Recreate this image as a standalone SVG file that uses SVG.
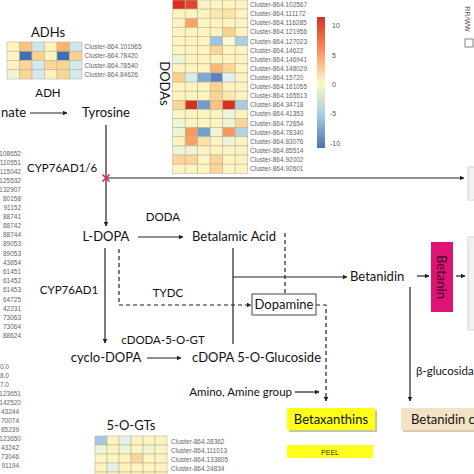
<svg xmlns="http://www.w3.org/2000/svg" width="474" height="474" viewBox="0 0 474 474">
<defs>
<style>
.m{font-family:Lato,"Liberation Sans",sans-serif;font-size:13px;fill:#111}
.e{font-family:Lato,"Liberation Sans",sans-serif;font-size:11.5px;fill:#111}
.cl{font-family:"Liberation Sans",Arial,sans-serif;font-size:6.5px;fill:#666}
.tk{font-family:"Liberation Sans",Arial,sans-serif;font-size:7px;fill:#555}
.ln{stroke:#222;stroke-width:1.2;fill:none}
.ar{stroke:#222;stroke-width:1.2;fill:none;marker-end:url(#ah)}
.d{stroke-dasharray:4 3}
.hm rect{stroke:#bab59c;stroke-width:0.6}
</style>
<marker id="ah" viewBox="0 0 10 10" refX="9" refY="5" markerWidth="5" markerHeight="5" orient="auto" markerUnits="userSpaceOnUse">
<path d="M0,0 L10,5 L0,10 z" fill="#222"/>
</marker>
<linearGradient id="cb" x1="0" y1="0" x2="0" y2="1">
<stop offset="0" stop-color="#d73027"/>
<stop offset="0.25" stop-color="#fc8d59"/>
<stop offset="0.5" stop-color="#fff8c4"/>
<stop offset="0.75" stop-color="#a6cce0"/>
<stop offset="1" stop-color="#4575b4"/>
</linearGradient>
</defs>
<rect width="474" height="474" fill="#fff"/>

<!-- ADHs heatmap -->
<g id="adhs">
<text class="m" x="48" y="37" text-anchor="middle">ADHs</text>
<g class="hm">
<rect x="7" y="42" width="12.5" height="9.25" fill="#fff3bf"/><rect x="19.5" y="42" width="12.5" height="9.25" fill="#fdc47e"/><rect x="32" y="42" width="12.5" height="9.25" fill="#cfe5ee"/><rect x="44.5" y="42" width="12.5" height="9.25" fill="#fff3bf"/><rect x="57" y="42" width="12.5" height="9.25" fill="#fbb468"/><rect x="69.5" y="42" width="12.5" height="9.25" fill="#cfe5ee"/>
<rect x="7" y="51.25" width="12.5" height="9.25" fill="#fff3bf"/><rect x="19.5" y="51.25" width="12.5" height="9.25" fill="#3f6fb3"/><rect x="32" y="51.25" width="12.5" height="9.25" fill="#fdd08e"/><rect x="44.5" y="51.25" width="12.5" height="9.25" fill="#fff3bf"/><rect x="57" y="51.25" width="12.5" height="9.25" fill="#3f6fb3"/><rect x="69.5" y="51.25" width="12.5" height="9.25" fill="#fdd08e"/>
<rect x="7" y="60.5" width="12.5" height="9.25" fill="#fff3bf"/><rect x="19.5" y="60.5" width="12.5" height="9.25" fill="#fdd596"/><rect x="32" y="60.5" width="12.5" height="9.25" fill="#d3e8ef"/><rect x="44.5" y="60.5" width="12.5" height="9.25" fill="#fdd596"/><rect x="57" y="60.5" width="12.5" height="9.25" fill="#fdd596"/><rect x="69.5" y="60.5" width="12.5" height="9.25" fill="#d3e8ef"/>
<rect x="7" y="69.75" width="12.5" height="9.25" fill="#eef5d5"/><rect x="19.5" y="69.75" width="12.5" height="9.25" fill="#fdd596"/><rect x="32" y="69.75" width="12.5" height="9.25" fill="#d3e8ef"/><rect x="44.5" y="69.75" width="12.5" height="9.25" fill="#fff3bf"/><rect x="57" y="69.75" width="12.5" height="9.25" fill="#fdd596"/><rect x="69.5" y="69.75" width="12.5" height="9.25" fill="#d3e8ef"/>
</g>
<text class="cl" x="84.5" y="49.2">Cluster-864.101965</text>
<text class="cl" x="84.5" y="58.4">Cluster-864.78420</text>
<text class="cl" x="84.5" y="67.7">Cluster-864.78540</text>
<text class="cl" x="84.5" y="76.9">Cluster-864.84626</text>
</g>

<!-- DODAs heatmap -->
<g id="dodas">
<text class="m" x="165" y="83.5" text-anchor="middle" dominant-baseline="central" transform="rotate(90 165 83.5)">DODAs</text>
<g class="hm">
<rect x="172.7" y="0" width="12.5" height="9.12" fill="#d7301f"/><rect x="185.2" y="0" width="12.5" height="9.12" fill="#e0452f"/><rect x="197.7" y="0" width="12.5" height="9.12" fill="#fff3bf"/><rect x="210.2" y="0" width="12.5" height="9.12" fill="#fff3bf"/><rect x="222.7" y="0" width="12.5" height="9.12" fill="#fff3bf"/><rect x="235.2" y="0" width="12.5" height="9.12" fill="#fff3bf"/>
<rect x="172.7" y="9.12" width="12.5" height="9.12" fill="#fff3bf"/><rect x="185.2" y="9.12" width="12.5" height="9.12" fill="#fff3bf"/><rect x="197.7" y="9.12" width="12.5" height="9.12" fill="#fff3bf"/><rect x="210.2" y="9.12" width="12.5" height="9.12" fill="#feeab0"/><rect x="222.7" y="9.12" width="12.5" height="9.12" fill="#fee3a6"/><rect x="235.2" y="9.12" width="12.5" height="9.12" fill="#fff3bf"/>
<rect x="172.7" y="18.24" width="12.5" height="9.12" fill="#fff3bf"/><rect x="185.2" y="18.24" width="12.5" height="9.12" fill="#f7a465"/><rect x="197.7" y="18.24" width="12.5" height="9.12" fill="#fff3bf"/><rect x="210.2" y="18.24" width="12.5" height="9.12" fill="#fff3bf"/><rect x="222.7" y="18.24" width="12.5" height="9.12" fill="#fff3bf"/><rect x="235.2" y="18.24" width="12.5" height="9.12" fill="#fff3bf"/>
<rect x="172.7" y="27.36" width="12.5" height="9.12" fill="#fff3bf"/><rect x="185.2" y="27.36" width="12.5" height="9.12" fill="#fff3bf"/><rect x="197.7" y="27.36" width="12.5" height="9.12" fill="#fff3bf"/><rect x="210.2" y="27.36" width="12.5" height="9.12" fill="#fff3bf"/><rect x="222.7" y="27.36" width="12.5" height="9.12" fill="#fdd08e"/><rect x="235.2" y="27.36" width="12.5" height="9.12" fill="#fff3bf"/>
<rect x="172.7" y="36.48" width="12.5" height="9.12" fill="#fff3bf"/><rect x="185.2" y="36.48" width="12.5" height="9.12" fill="#fff3bf"/><rect x="197.7" y="36.48" width="12.5" height="9.12" fill="#fff3bf"/><rect x="210.2" y="36.48" width="12.5" height="9.12" fill="#9cc3e0"/><rect x="222.7" y="36.48" width="12.5" height="9.12" fill="#fbf7d0"/><rect x="235.2" y="36.48" width="12.5" height="9.12" fill="#a9cde3"/>
<rect x="172.7" y="45.6" width="12.5" height="9.12" fill="#fff3bf"/><rect x="185.2" y="45.6" width="12.5" height="9.12" fill="#fff3bf"/><rect x="197.7" y="45.6" width="12.5" height="9.12" fill="#fff3bf"/><rect x="210.2" y="45.6" width="12.5" height="9.12" fill="#fdd596"/><rect x="222.7" y="45.6" width="12.5" height="9.12" fill="#fff3bf"/><rect x="235.2" y="45.6" width="12.5" height="9.12" fill="#fff3bf"/>
<rect x="172.7" y="54.72" width="12.5" height="9.12" fill="#eef5d5"/><rect x="185.2" y="54.72" width="12.5" height="9.12" fill="#fff3bf"/><rect x="197.7" y="54.72" width="12.5" height="9.12" fill="#fff3bf"/><rect x="210.2" y="54.72" width="12.5" height="9.12" fill="#fff3bf"/><rect x="222.7" y="54.72" width="12.5" height="9.12" fill="#fff3bf"/><rect x="235.2" y="54.72" width="12.5" height="9.12" fill="#fff3bf"/>
<rect x="172.7" y="63.84" width="12.5" height="9.12" fill="#fff3bf"/><rect x="185.2" y="63.84" width="12.5" height="9.12" fill="#fff3bf"/><rect x="197.7" y="63.84" width="12.5" height="9.12" fill="#fff3bf"/><rect x="210.2" y="63.84" width="12.5" height="9.12" fill="#fbb879"/><rect x="222.7" y="63.84" width="12.5" height="9.12" fill="#fdd596"/><rect x="235.2" y="63.84" width="12.5" height="9.12" fill="#fff3bf"/>
<rect x="172.7" y="72.96" width="12.5" height="9.12" fill="#fdcf8c"/><rect x="185.2" y="72.96" width="12.5" height="9.12" fill="#d8ecef"/><rect x="197.7" y="72.96" width="12.5" height="9.12" fill="#7aa8d2"/><rect x="210.2" y="72.96" width="12.5" height="9.12" fill="#5483c0"/><rect x="222.7" y="72.96" width="12.5" height="9.12" fill="#e0f0ee"/><rect x="235.2" y="72.96" width="12.5" height="9.12" fill="#fff3bf"/>
<rect x="172.7" y="82.08" width="12.5" height="9.12" fill="#fff3bf"/><rect x="185.2" y="82.08" width="12.5" height="9.12" fill="#fff3bf"/><rect x="197.7" y="82.08" width="12.5" height="9.12" fill="#fff3bf"/><rect x="210.2" y="82.08" width="12.5" height="9.12" fill="#fdd08e"/><rect x="222.7" y="82.08" width="12.5" height="9.12" fill="#fff3bf"/><rect x="235.2" y="82.08" width="12.5" height="9.12" fill="#fff3bf"/>
<rect x="172.7" y="91.2" width="12.5" height="9.12" fill="#fff3bf"/><rect x="185.2" y="91.2" width="12.5" height="9.12" fill="#fff3bf"/><rect x="197.7" y="91.2" width="12.5" height="9.12" fill="#fff3bf"/><rect x="210.2" y="91.2" width="12.5" height="9.12" fill="#fdd596"/><rect x="222.7" y="91.2" width="12.5" height="9.12" fill="#fee8ae"/><rect x="235.2" y="91.2" width="12.5" height="9.12" fill="#fff3bf"/>
<rect x="172.7" y="100.32" width="12.5" height="9.12" fill="#fdd596"/><rect x="185.2" y="100.32" width="12.5" height="9.12" fill="#d7301f"/><rect x="197.7" y="100.32" width="12.5" height="9.12" fill="#6f9ccb"/><rect x="210.2" y="100.32" width="12.5" height="9.12" fill="#fbc186"/><rect x="222.7" y="100.32" width="12.5" height="9.12" fill="#d7301f"/><rect x="235.2" y="100.32" width="12.5" height="9.12" fill="#a8cce4"/>
<rect x="172.7" y="109.44" width="12.5" height="9.12" fill="#fff3bf"/><rect x="185.2" y="109.44" width="12.5" height="9.12" fill="#fff3bf"/><rect x="197.7" y="109.44" width="12.5" height="9.12" fill="#fff3bf"/><rect x="210.2" y="109.44" width="12.5" height="9.12" fill="#fff3bf"/><rect x="222.7" y="109.44" width="12.5" height="9.12" fill="#eef5d5"/><rect x="235.2" y="109.44" width="12.5" height="9.12" fill="#fff3bf"/>
<rect x="172.7" y="118.56" width="12.5" height="9.12" fill="#eef5d5"/><rect x="185.2" y="118.56" width="12.5" height="9.12" fill="#fff3bf"/><rect x="197.7" y="118.56" width="12.5" height="9.12" fill="#fff3bf"/><rect x="210.2" y="118.56" width="12.5" height="9.12" fill="#fff3bf"/><rect x="222.7" y="118.56" width="12.5" height="9.12" fill="#eef5d5"/><rect x="235.2" y="118.56" width="12.5" height="9.12" fill="#fdd596"/>
<rect x="172.7" y="127.68" width="12.5" height="9.12" fill="#eef5d5"/><rect x="185.2" y="127.68" width="12.5" height="9.12" fill="#f59a5c"/><rect x="197.7" y="127.68" width="12.5" height="9.12" fill="#6fa0cc"/><rect x="210.2" y="127.68" width="12.5" height="9.12" fill="#eef5d5"/><rect x="222.7" y="127.68" width="12.5" height="9.12" fill="#f59a5c"/><rect x="235.2" y="127.68" width="12.5" height="9.12" fill="#b1d3e6"/>
<rect x="172.7" y="136.8" width="12.5" height="9.12" fill="#fff3bf"/><rect x="185.2" y="136.8" width="12.5" height="9.12" fill="#f8a461"/><rect x="197.7" y="136.8" width="12.5" height="9.12" fill="#fee3a6"/><rect x="210.2" y="136.8" width="12.5" height="9.12" fill="#fff3bf"/><rect x="222.7" y="136.8" width="12.5" height="9.12" fill="#eef5d5"/><rect x="235.2" y="136.8" width="12.5" height="9.12" fill="#fff3bf"/>
<rect x="172.7" y="145.92" width="12.5" height="9.12" fill="#eef5d5"/><rect x="185.2" y="145.92" width="12.5" height="9.12" fill="#eef5d5"/><rect x="197.7" y="145.92" width="12.5" height="9.12" fill="#fff3bf"/><rect x="210.2" y="145.92" width="12.5" height="9.12" fill="#fff3bf"/><rect x="222.7" y="145.92" width="12.5" height="9.12" fill="#fff3bf"/><rect x="235.2" y="145.92" width="12.5" height="9.12" fill="#fff3bf"/>
<rect x="172.7" y="155.04" width="12.5" height="9.12" fill="#fdd596"/><rect x="185.2" y="155.04" width="12.5" height="9.12" fill="#fdd596"/><rect x="197.7" y="155.04" width="12.5" height="9.12" fill="#fff3bf"/><rect x="210.2" y="155.04" width="12.5" height="9.12" fill="#fdd596"/><rect x="222.7" y="155.04" width="12.5" height="9.12" fill="#fff3bf"/><rect x="235.2" y="155.04" width="12.5" height="9.12" fill="#fff3bf"/>
<rect x="172.7" y="164.16" width="12.5" height="9.12" fill="#fff3bf"/><rect x="185.2" y="164.16" width="12.5" height="9.12" fill="#fff3bf"/><rect x="197.7" y="164.16" width="12.5" height="9.12" fill="#fff3bf"/><rect x="210.2" y="164.16" width="12.5" height="9.12" fill="#fdd596"/><rect x="222.7" y="164.16" width="12.5" height="9.12" fill="#fff3bf"/><rect x="235.2" y="164.16" width="12.5" height="9.12" fill="#fff3bf"/>
</g>
<g>
<text class="cl" x="250" y="7">Cluster-864.102567</text>
<text class="cl" x="250" y="16.1">Cluster-864.111172</text>
<text class="cl" x="250" y="25.2">Cluster-864.116285</text>
<text class="cl" x="250" y="34.4">Cluster-864.121956</text>
<text class="cl" x="250" y="43.5">Cluster-864.127023</text>
<text class="cl" x="250" y="52.6">Cluster-864.14622</text>
<text class="cl" x="250" y="61.7">Cluster-864.146941</text>
<text class="cl" x="250" y="70.8">Cluster-864.148029</text>
<text class="cl" x="250" y="80">Cluster-864.15720</text>
<text class="cl" x="250" y="89.1">Cluster-864.161055</text>
<text class="cl" x="250" y="98.2">Cluster-864.165513</text>
<text class="cl" x="250" y="107.3">Cluster-864.34718</text>
<text class="cl" x="250" y="116.4">Cluster-864.41353</text>
<text class="cl" x="250" y="125.6">Cluster-864.72654</text>
<text class="cl" x="250" y="134.7">Cluster-864.78340</text>
<text class="cl" x="250" y="143.8">Cluster-864.83076</text>
<text class="cl" x="250" y="152.9">Cluster-864.85514</text>
<text class="cl" x="250" y="162">Cluster-864.92002</text>
<text class="cl" x="250" y="171.2">Cluster-864.92601</text>
</g>
</g>

<!-- colour bar -->
<g id="colorbar">
<rect x="317" y="17" width="8" height="131" fill="url(#cb)"/>
<text class="tk" x="332" y="27.5">10</text>
<text class="tk" x="332" y="57.5">5</text>
<text class="tk" x="332" y="86.5">0</text>
<text class="tk" x="330" y="115.5">-5</text>
<text class="tk" x="330" y="145.5">-10</text>
</g>

<!-- legend top right -->
<g id="legend">
<text class="tk" x="467" y="19" text-anchor="middle" dominant-baseline="central" transform="rotate(90 467 19)">RR/WW</text>
<rect x="465" y="39" width="8" height="8" fill="#fff" stroke="#666" stroke-width="0.8"/>
</g>

<!-- left heatmap labels (cut) -->
<g id="left-labels">
<text class="cl" x="21" y="156" text-anchor="end">108652</text>
<text class="cl" x="21" y="165" text-anchor="end">110551</text>
<text class="cl" x="21" y="174" text-anchor="end">115042</text>
<text class="cl" x="21" y="183" text-anchor="end">125532</text>
<text class="cl" x="21" y="192" text-anchor="end">132907</text>
<text class="cl" x="21" y="201" text-anchor="end">80158</text>
<text class="cl" x="21" y="210" text-anchor="end">91152</text>
<text class="cl" x="21" y="219" text-anchor="end">88741</text>
<text class="cl" x="21" y="228" text-anchor="end">88742</text>
<text class="cl" x="21" y="237" text-anchor="end">88744</text>
<text class="cl" x="21" y="246" text-anchor="end">89053</text>
<text class="cl" x="21" y="256" text-anchor="end">89053</text>
<text class="cl" x="21" y="265" text-anchor="end">43854</text>
<text class="cl" x="21" y="274" text-anchor="end">61451</text>
<text class="cl" x="21" y="283" text-anchor="end">61452</text>
<text class="cl" x="21" y="292" text-anchor="end">61453</text>
<text class="cl" x="21" y="302" text-anchor="end">64725</text>
<text class="cl" x="21" y="311" text-anchor="end">42231</text>
<text class="cl" x="21" y="320" text-anchor="end">73063</text>
<text class="cl" x="21" y="329" text-anchor="end">73064</text>
<text class="cl" x="21" y="338" text-anchor="end">88624</text>
<text class="cl" x="9" y="369" text-anchor="end">0.0</text>
<text class="cl" x="9" y="378" text-anchor="end">8.0</text>
<text class="cl" x="9" y="387" text-anchor="end">7.0</text>
<text class="cl" x="21" y="396" text-anchor="end">123651</text>
<text class="cl" x="21" y="405" text-anchor="end">142520</text>
<text class="cl" x="19" y="414" text-anchor="end">43244</text>
<text class="cl" x="19" y="423" text-anchor="end">70074</text>
<text class="cl" x="19" y="432" text-anchor="end">85239</text>
<text class="cl" x="21" y="441" text-anchor="end">123650</text>
<text class="cl" x="19" y="450" text-anchor="end">43242</text>
<text class="cl" x="19" y="459" text-anchor="end">73046</text>
<text class="cl" x="19" y="468" text-anchor="end">91194</text>
</g>

<!-- 5-O-GTs heatmap -->
<g id="gts">
<text class="m" x="131" y="430" text-anchor="middle">5-O-GTs</text>
<g class="hm">
<rect x="95" y="436" width="12" height="9" fill="#a6c8e2"/><rect x="107" y="436" width="12" height="9" fill="#fff3bf"/><rect x="119" y="436" width="12" height="9" fill="#e4f1e6"/><rect x="131" y="436" width="12" height="9" fill="#fff3bf"/><rect x="143" y="436" width="12" height="9" fill="#fff3bf"/><rect x="155" y="436" width="12" height="9" fill="#fff3bf"/>
<rect x="95" y="445" width="12" height="9" fill="#eef5d5"/><rect x="107" y="445" width="12" height="9" fill="#fff3bf"/><rect x="119" y="445" width="12" height="9" fill="#eef5d5"/><rect x="131" y="445" width="12" height="9" fill="#fff3bf"/><rect x="143" y="445" width="12" height="9" fill="#eef5d5"/><rect x="155" y="445" width="12" height="9" fill="#fff3bf"/>
<rect x="95" y="454" width="12" height="9" fill="#fff3bf"/><rect x="107" y="454" width="12" height="9" fill="#fff3bf"/><rect x="119" y="454" width="12" height="9" fill="#fff3bf"/><rect x="131" y="454" width="12" height="9" fill="#fcd59b"/><rect x="143" y="454" width="12" height="9" fill="#fff3bf"/><rect x="155" y="454" width="12" height="9" fill="#fff3bf"/>
<rect x="95" y="463" width="12" height="9" fill="#fff3bf"/><rect x="107" y="463" width="12" height="9" fill="#e4f1e6"/><rect x="119" y="463" width="12" height="9" fill="#fff3bf"/><rect x="131" y="463" width="12" height="9" fill="#fff3bf"/><rect x="143" y="463" width="12" height="9" fill="#fff3bf"/><rect x="155" y="463" width="12" height="9" fill="#fff3bf"/>
<rect x="95" y="472" width="12" height="9" fill="#fff3bf"/><rect x="107" y="472" width="12" height="9" fill="#fff3bf"/><rect x="119" y="472" width="12" height="9" fill="#fff3bf"/><rect x="131" y="472" width="12" height="9" fill="#fff3bf"/><rect x="143" y="472" width="12" height="9" fill="#fff3bf"/><rect x="155" y="472" width="12" height="9" fill="#fff3bf"/>
</g>
<text class="cl" x="171" y="444">Cluster-864.28362</text>
<text class="cl" x="171" y="453">Cluster-864.111013</text>
<text class="cl" x="171" y="462">Cluster-864.133805</text>
<text class="cl" x="171" y="471">Cluster-864.24834</text>
</g>

<!-- connectors -->
<g id="connectors">
<line class="ar" x1="30" y1="113" x2="67" y2="113"/>
<line class="ar" x1="106" y1="125" x2="106" y2="226"/>
<line class="ar" x1="106" y1="178" x2="464" y2="178"/>
<line class="ar" x1="138" y1="237" x2="183" y2="237"/>
<line class="ar" x1="105" y1="248" x2="105" y2="343"/>
<path class="ar d" d="M119,249 V305 H251"/>
<line class="ln" x1="233" y1="248" x2="233" y2="344"/>
<line class="ar" x1="233" y1="277" x2="347" y2="277"/>
<line class="ln d" x1="285" y1="233" x2="285" y2="293"/>
<path class="ar d" d="M316,305 H326 V401"/>
<line class="ar" x1="147" y1="358" x2="181" y2="358"/>
<line class="ar" x1="295" y1="392" x2="319" y2="392"/>
<line class="ar" x1="410" y1="287" x2="410" y2="401"/>
<line class="ar" x1="417" y1="276" x2="429" y2="276"/>
<line class="ar" x1="456" y1="276" x2="465" y2="276"/>
<path d="M102.5,174.5 L109.5,181.5 M109.5,174.5 L102.5,181.5" stroke="#e0206a" stroke-width="1.6"/>
</g>

<!-- enzyme labels -->
<g id="enzymes">
<text class="e" x="48" y="97" text-anchor="middle">ADH</text>
<text class="e" x="27" y="172">CYP76AD1/6</text>
<text class="e" x="163" y="221" text-anchor="middle">DODA</text>
<text class="e" x="168" y="297" text-anchor="middle">TYDC</text>
<text class="e" x="69" y="294" text-anchor="middle">CYP76AD1</text>
<text class="e" x="163" y="344" text-anchor="middle">cDODA-5-O-GT</text>
<text class="e" x="292" y="396" text-anchor="end">Amino, Amine group</text>
<text class="e" x="416" y="375">β-glucosida</text>
</g>

<!-- nodes -->
<g id="glutamate"><text class="m" x="1" y="117">nate</text></g>
<g id="tyrosine"><text class="m" x="106" y="117" text-anchor="middle">Tyrosine</text></g>
<g id="ldopa"><text class="m" x="106" y="241" text-anchor="middle">L-DOPA</text></g>
<g id="betalamic"><text class="m" x="192" y="241">Betalamic Acid</text></g>
<g id="betanidin"><text class="m" x="350" y="281">Betanidin</text></g>
<g id="dopamine">
<rect x="252" y="294" width="64" height="21" fill="#fff" stroke="#444" stroke-width="1"/>
<text class="m" x="284" y="309" text-anchor="middle">Dopamine</text>
</g>
<g id="cyclodopa"><text class="m" x="106" y="362" text-anchor="middle">cyclo-DOPA</text></g>
<g id="cdopa-glucoside"><text class="m" x="192" y="362">cDOPA 5-O-Glucoside</text></g>
<g id="betanin">
<rect x="431" y="242" width="22" height="70" fill="#dd1475"/>
<text x="442" y="277" text-anchor="middle" dominant-baseline="central" transform="rotate(90 442 277)" style="font-family:Lato,'Liberation Sans',sans-serif;font-size:13px;fill:#3a0822">Betanin</text>
</g>
<g id="betaxanthins">
<rect x="289" y="410" width="88" height="22" fill="#c8c8a0"/>
<rect x="287" y="408" width="88" height="22" fill="#ffff1a"/>
<text class="m" x="331" y="424" text-anchor="middle">Betaxanthins</text>
</g>
<g id="peel">
<rect x="287" y="445" width="86" height="13" fill="#ffff1a"/>
<text class="tk" x="330" y="454.5" text-anchor="middle" style="fill:#333">PEEL</text>
</g>
<g id="betanidin-c">
<rect x="403" y="410" width="80" height="22" fill="#d9cbb0"/>
<rect x="401" y="408" width="80" height="22" fill="#f3e3c6"/>
<text class="m" x="411" y="424">Betanidin c</text>
</g>
<g id="right-box-1"><rect x="468" y="167" width="12" height="33" fill="#f2f2f2" stroke="#d4d4d4" stroke-width="1"/></g>
<g id="right-box-2"><rect x="468" y="237" width="12" height="93" fill="#f2f2f2" stroke="#d4d4d4" stroke-width="1"/></g>
</svg>
